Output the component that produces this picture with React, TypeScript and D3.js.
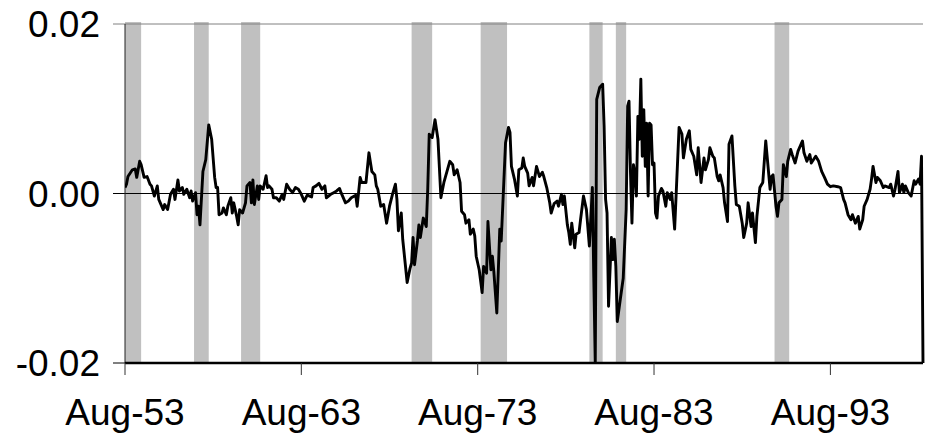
import React from 'react';
import * as d3 from 'd3';

// months counted from Aug-53, and the series value read at that month
const monthsSinceAug53 = [
  0, 1, 2, 5, 7, 8, 10, 11, 13, 15, 17, 18, 20, 22, 23, 26, 27, 29, 31, 33, 34, 36, 37, 39, 40, 42, 44, 45, 46, 48,
  49, 50, 51, 53, 55, 57, 59, 61, 62, 63, 64, 66, 67, 69, 70, 72, 73, 74, 76, 77, 78, 80, 82, 83, 85, 86, 87, 88, 90, 91,
  92, 94, 96, 97, 98, 100, 101, 103, 105, 107, 108, 110, 112, 114, 116, 118, 120, 122, 124, 127, 128, 130, 132, 134, 136, 137, 140, 142, 144, 146,
  147, 150, 152, 154, 157, 158, 160, 161, 164, 166, 168, 170, 171, 172, 174, 176, 178, 180, 182, 184, 185, 186, 188, 189, 192, 194, 195, 196, 197, 199,
  200, 201, 203, 205, 206, 207, 209, 211, 213, 215, 217, 221, 223, 224, 226, 228, 229, 231, 232, 234, 235, 237, 238, 239, 241, 243, 244, 246, 247, 249,
  250, 251, 253, 255, 256, 259, 261, 262, 263, 265, 267, 268, 270, 271, 272, 274, 275, 277, 278, 280, 282, 284, 285, 287, 289, 290, 292, 294, 295, 297,
  298, 299, 301, 302, 303, 304, 306, 307, 309, 310, 312, 314, 316, 318, 319, 320, 321, 323, 325, 326, 327, 328, 329, 331, 332, 333, 334, 335, 337, 339,
  341, 342, 343, 344, 345, 346, 347, 348, 349, 350, 351, 352, 353, 354, 355, 356, 357, 358, 359, 360, 361, 362, 363, 365, 366, 368, 369, 371, 372, 374,
  377, 379, 380, 382, 384, 385, 387, 389, 390, 392, 394, 395, 397, 398, 400, 401, 403, 404, 405, 407, 408, 410, 411, 413, 415, 416, 418, 420, 421, 423,
  424, 426, 427, 429, 430, 432, 434, 436, 439, 440, 441, 443, 444, 445, 447, 448, 450, 451, 453, 454, 456, 458, 461, 462, 464, 466, 467, 470, 472, 474,
  476, 478, 480, 482, 485, 487, 489, 490, 492, 494, 495, 497, 499, 500, 502, 503, 505, 507, 508, 509, 511, 512, 514, 516, 517, 520, 521, 523, 524, 526,
  527, 529, 530, 531, 533, 535, 537, 538, 540, 541, 542, 543,
];

const seriesValues = [
  0.0007, 0.0011, 0.002, 0.0028, 0.0029, 0.0019, 0.0038, 0.0034, 0.0019, 0.002, 0.0011, 0.0009, -0.0003, 0.0009, -0.0007, -0.0019, -0.0013, -0.0019, -0.0001, 0.0005, -0.0007, 0.0016, 0.0003, 0.0007, -0.0001, 0.0005, -0.0005, 0.0003, -0.0009, 0.0001,
  -0.0025, -0.0015, -0.0037, 0.0026, 0.004, 0.0081, 0.0064, 0.0019, 0.0007, 0.0007, -0.0025, -0.0023, -0.0017, -0.0025, -0.0015, -0.0005, -0.0023, -0.0011, -0.0027, -0.0037, -0.0019, -0.0023, -0.0011, 0.0009, 0.0013, -0.0011, 0.0016, -0.0013, 0.0009, -0.0007,
  0.0009, 0.0005, 0.0021, 0.0007, 0.0009, 0.0005, -0.0005, -0.0005, -0.0009, -0.0001, -0.0007, 0.0011, 0.0005, 0.0001, 0.0007, 0.0005, -0.0001, -0.0009, -0.0002, -0.0004, 0.0007, 0.0009, 0.0012, 0.0005, 0.0009, -0.0005, -0.0001, 0.0001, 0.0003, 0.0006,
  0.0001, -0.0011, -0.0009, -0.0005, -0.0002, -0.0015, 0.0019, 0.0013, 0.0013, 0.0048, 0.0026, 0.0022, 0.0009, 0.0005, -0.0015, -0.0013, -0.0035, -0.0015, -0.0001, 0.0011, -0.0007, -0.0044, -0.0023, -0.0054, -0.0105, -0.0088, -0.0082, -0.0052, -0.0084, -0.0056,
  -0.0037, -0.0052, -0.0029, -0.0039, 0.0005, 0.007, 0.0066, 0.0087, 0.0064, -0.0005, 0.0013, 0.0038, 0.0034, 0.0022, 0.0028, 0.0013, -0.0021, -0.0025, -0.0035, -0.0031, -0.0048, -0.0042, -0.005, -0.0074, -0.009, -0.0117, -0.0086, -0.0094, -0.0033, -0.009,
  -0.0074, -0.0092, -0.0141, -0.0042, -0.0056, 0.006, 0.0078, 0.0072, 0.0032, 0.0017, -0.0003, 0.0028, 0.003, 0.0042, 0.0032, 0.0024, 0.0009, 0.0019, 0.0009, 0.0032, 0.002, 0.0025, 0.002, 0.0007, -0.0011, -0.0023, -0.0012, -0.0009, -0.0015, -0.0001,
  -0.0013, -0.0003, -0.0037, -0.0046, -0.006, -0.0035, -0.0064, -0.0048, -0.0046, -0.0031, -0.0003, -0.0019, -0.0062, 0.0007, -0.0098, -0.02, 0.0111, 0.0125, 0.0129, 0.008, -0.0007, -0.0023, -0.0133, -0.0052, -0.0078, -0.0054, -0.0086, -0.0151, -0.0125, -0.01,
  -0.0019, 0.0103, 0.0109, 0.0024, -0.0035, 0.0034, 0.0024, -0.0003, 0.0091, 0.0064, 0.0135, 0.0044, 0.0099, 0.0032, 0.0083, -0.0003, 0.0083, 0.0081, 0.0034, 0.0036, -0.0023, -0.0029, -0.0003, 0.0006, 0.0003, -0.0015, 0.0001, -0.0007, 0.0001, -0.0042,
  0.0078, 0.007, 0.0042, 0.0064, 0.0074, 0.0052, 0.0044, 0.0022, 0.0054, 0.0013, 0.0042, 0.0028, 0.004, 0.0054, 0.0044, 0.0042, 0.002, 0.0015, 0.0022, 0.0007, -0.0011, -0.0033, 0.0058, 0.0068, 0.0009, -0.0013, -0.0015, -0.0035, -0.0052, -0.0035,
  -0.0011, -0.0039, -0.0023, -0.0058, -0.0027, 0.0007, 0.0013, 0.0062, 0.0005, 0.002, 0.0022, -0.0015, -0.0027, -0.0011, -0.0007, 0.0034, 0.002, 0.0038, 0.0052, 0.0046, 0.0036, 0.005, 0.0062, 0.0048, 0.0038, 0.0046, 0.0036, 0.0044, 0.0038, 0.0026,
  0.0019, 0.0011, 0.0008, 0.0009, 0.0008, 0.0007, -0.0007, -0.0011, -0.0025, -0.0031, -0.0025, -0.0035, -0.0027, -0.0042, -0.0031, -0.0015, -0.0007, 0.0005, 0.0017, 0.0032, 0.0013, 0.0019, 0.0015, 0.0007, 0.0009, 0.0007, 0.0011, -0.0003, 0.0005, 0.0026,
  0.0001, 0.0011, 0.0001, 0.0009, 0.0001, -0.0003, 0.0015, 0.0011, 0.0017, 0.0011, 0.0044, -0.02,
];

// shaded periods (recessions), as start / end month
const shadeStarts = ['1953-08', '1957-07', '1960-03', '1969-11', '1973-10', '1979-12', '1981-06', '1990-06'];
const shadeEnds = ['1954-07', '1958-05', '1961-04', '1971-01', '1975-04', '1980-09', '1982-01', '1991-04'];

const xTickDates = ['1953-08', '1963-08', '1973-08', '1983-08', '1993-08'];
const yTicks = [0.02, 0, -0.02];
const yTickLabels = ['0.02', '0.00', '-0.02'];

const W = 932;
const H = 436;
const left = 125;
const right = 923;
const top = 24;
const bottom = 363;
const font = "'Liberation Sans', Arial, sans-serif";

const parseMonth = d3.timeParse('%Y-%m');
const start = new Date(1953, 7, 1);

export default function App() {
  const x = d3.scaleTime()
    .domain([start, d3.timeMonth.offset(start, 543)])
    .range([left, right]);
  const y = d3.scaleLinear().domain([-0.02, 0.02]).range([bottom, top]);

  const points = monthsSinceAug53.map((m, i) => ({
    date: d3.timeMonth.offset(start, m),
    val: seriesValues[i],
  }));
  const line = d3.line<{ date: Date; val: number }>()
    .x(d => x(d.date))
    .y(d => y(d.val));

  const fmt = d3.timeFormat('%b-%y');

  return (
    <svg width={W} height={H} style={{ position: 'absolute', left: 0, top: 0, background: '#fff' }}>
      <defs>
        <clipPath id="plot">
          <rect x={left} y={top - 2} width={right - left + 2} height={bottom - top + 2} />
        </clipPath>
      </defs>

      {/* recession shading */}
      {shadeStarts.map((s, i) => {
        const x0 = x(parseMonth(s)!);
        const x1 = x(parseMonth(shadeEnds[i])!);
        return <rect key={s} x={x0} y={top - 2} width={x1 - x0} height={bottom - top + 2} fill="#c0c0c0" />;
      })}

      {/* gridlines */}
      <line x1={left - 12} x2={right} y1={y(0.02)} y2={y(0.02)} stroke="#808080" strokeWidth={1} />
      <line x1={left - 12} x2={right} y1={y(0)} y2={y(0)} stroke="#000" strokeWidth={1} />

      {/* y axis */}
      <line x1={left} x2={left} y1={top} y2={bottom} stroke="#222" strokeWidth={1} />
      <line x1={left - 12} x2={left} y1={bottom} y2={bottom} stroke="#000" strokeWidth={1} />
      {yTicks.map((t, i) => (
        <text key={t} x={100} y={y(t) + 13} textAnchor="end" fontFamily={font} fontSize={37} fill="#000">
          {yTickLabels[i]}
        </text>
      ))}

      {/* series */}
      <path d={line(points) ?? ''} fill="none" stroke="#000" strokeWidth={2.9} strokeLinejoin="round" clipPath="url(#plot)" />

      {/* x axis */}
      <line x1={left} x2={right} y1={bottom} y2={bottom} stroke="#000" strokeWidth={2.5} />
      {xTickDates.map(d => {
        const xd = x(parseMonth(d)!);
        return (
          <g key={d}>
            <line x1={xd} x2={xd} y1={bottom} y2={bottom + 12} stroke="#333" strokeWidth={1} />
            <text x={xd} y={425} textAnchor="middle" fontFamily={font} fontSize={37} fill="#000">
              {fmt(parseMonth(d)!)}
            </text>
          </g>
        );
      })}
    </svg>
  );
}
